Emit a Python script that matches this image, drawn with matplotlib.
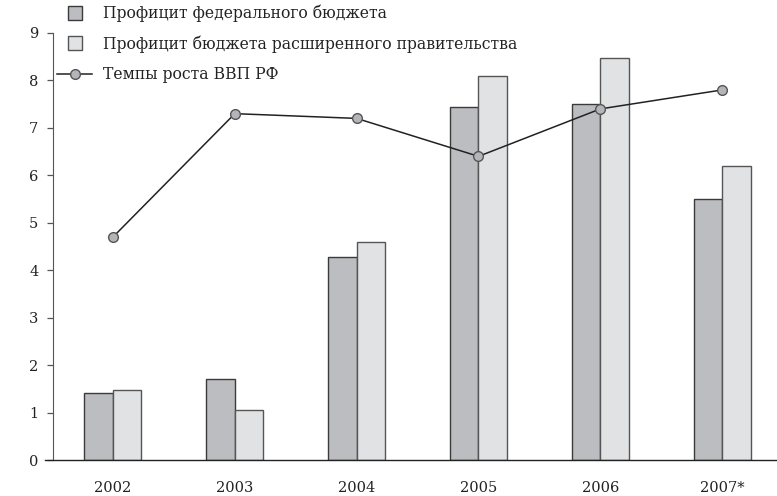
import matplotlib
matplotlib.use("Agg")
import matplotlib.pyplot as plt
from matplotlib.lines import Line2D
import numpy as np

years = ["2002", "2003", "2004", "2005", "2006", "2007*"]
federal = [1.42, 1.70, 4.27, 7.45, 7.50, 5.50]
extended = [1.47, 1.05, 4.60, 8.10, 8.48, 6.20]
gdp = [4.7, 7.3, 7.2, 6.4, 7.4, 7.8]
labels = ["Профицит федерального бюджета",
          "Профицит бюджета расширенного правительства",
          "Темпы роста ВВП РФ"]
yticks = list(range(0, 10))

plt.rcParams['font.family'] = ['DejaVu Serif']

fig = plt.figure(figsize=(7.77, 4.96), dpi=100)
ax = fig.add_axes([45/777, 1-460/496, 732/777, (460-33)/496])

x = np.arange(len(years))
w = 0.234
c_dark = "#bcbdc0"
c_light = "#e1e2e4"
ax.bar(x - w/2, federal, w, color=c_dark, edgecolor="#3a3a3a", linewidth=1.0, zorder=2)
ax.bar(x + w/2, extended, w, color=c_light, edgecolor="#555555", linewidth=1.0, zorder=2)
ax.plot(x, gdp, color="#222222", linewidth=1.1, marker="o", markersize=7,
        markerfacecolor="#b4b5b8", markeredgecolor="#555555", markeredgewidth=1.0, zorder=3)

ax.set_xlim(-0.558, 5.45)
ax.set_ylim(0, 9)
ax.spines['top'].set_visible(False)
ax.spines['right'].set_visible(False)
ax.spines['left'].set_position(('data', -0.4926))
ax.spines['left'].set_color("#555555")
ax.spines['left'].set_bounds(0, 9)
ax.spines['bottom'].set_color("#222222")
ax.spines['bottom'].set_linewidth(1.0)
ax.set_yticks(yticks)
ax.set_yticklabels([str(v) for v in yticks])
ax.tick_params(axis='y', direction='out', length=4.5, width=0.9, color="#555555",
               pad=6, labelsize=10.5, labelcolor="#222222")
ax.set_xticks(x)
ax.set_xticklabels(years)
ax.tick_params(axis='x', length=0, pad=15, labelsize=10.5, labelcolor="#222222")

handles = [
    Line2D([], [], linestyle='none', marker='s', markersize=9.5,
           markerfacecolor=c_dark, markeredgecolor="#3a3a3a", markeredgewidth=1.0),
    Line2D([], [], linestyle='none', marker='s', markersize=9.5,
           markerfacecolor=c_light, markeredgecolor="#555555", markeredgewidth=1.0),
    Line2D([], [], color="#222222", linewidth=1.1, marker='o', markersize=7,
           markerfacecolor="#b4b5b8", markeredgecolor="#555555", markeredgewidth=1.0),
]
leg = fig.legend(handles, labels, loc='upper left', bbox_to_anchor=(57/777, 1 - 4.5/496),
                 frameon=False, fontsize=11.25, handlelength=2.25, handletextpad=0.7,
                 labelspacing=0.86, borderaxespad=0.0, borderpad=0.0)
for t in leg.get_texts():
    t.set_color("#222222")

fig.savefig("out.png", dpi=100)
